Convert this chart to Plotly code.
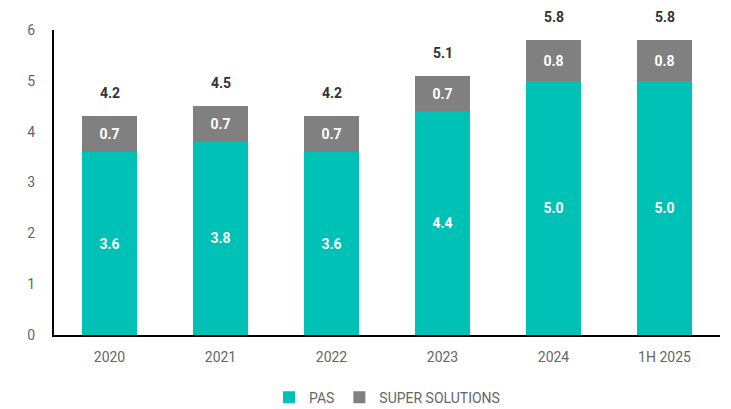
import plotly.graph_objects as go

categories = ["2020", "2021", "2022", "2023", "2024", "1H 2025"]
pas = [3.6, 3.8, 3.6, 4.4, 5.0, 5.0]
super_solutions = [0.7, 0.7, 0.7, 0.7, 0.8, 0.8]
total_labels = ["4.2", "4.5", "4.2", "5.1", "5.8", "5.8"]
y_ticks = [0, 1, 2, 3, 4, 5, 6]

TEAL = "#00C1B5"
GRAY = "#808080"
FONT = "Roboto, 'DejaVu Sans', sans-serif"

fig = go.Figure()
fig.add_trace(go.Bar(
    name="PAS", x=categories, y=pas, marker=dict(color=TEAL, line=dict(width=0)),
    text=[f"{v:.1f}" for v in pas], textposition="inside", insidetextanchor="middle",
    textfont=dict(color="white", size=14, family=FONT, weight="bold"),
    hoverinfo="skip", width=0.5,
))
fig.add_trace(go.Bar(
    name="SUPER SOLUTIONS", x=categories, y=super_solutions,
    marker=dict(color=GRAY, line=dict(width=0)),
    text=[f"{v:.1f}" for v in super_solutions], textposition="inside", insidetextanchor="middle",
    textfont=dict(color="white", size=14, family=FONT, weight="bold"),
    hoverinfo="skip", width=0.5,
))

for i, (p, s, lab) in enumerate(zip(pas, super_solutions, total_labels)):
    fig.add_annotation(x=i, y=p + s, xref="x", yref="y", text=lab, showarrow=False, yshift=23,
                       font=dict(color="#333333", size=14, family=FONT, weight="bold"))

fig.update_layout(
    barmode="stack",
    width=731, height=409,
    margin=dict(l=54, r=11, t=30, b=74),
    paper_bgcolor="white", plot_bgcolor="white",
    font=dict(family=FONT, color="#666666", size=14),
    uniformtext=dict(minsize=8, mode="show"),
    legend=dict(orientation="h", x=0.5, xanchor="center", yref="container", y=0.028,
                yanchor="middle", font=dict(size=14, color="#666666"), traceorder="normal"),
    xaxis=dict(type="category", range=[-0.5, 5.5], showline=True, linecolor="black",
               linewidth=2, ticks="", showgrid=False, automargin=False, ticklabelstandoff=8,
               tickfont=dict(size=14, color="#666666")),
    yaxis=dict(range=[0, 6], tickvals=y_ticks, showline=True, linecolor="black", linewidth=2,
               showgrid=False, zeroline=False, ticks="", ticklabelstandoff=14, automargin=False,
               tickfont=dict(size=14, color="#666666")),
)

fig.write_html("out.html", config={"displayModeBar": False},
               post_script="document.body.style.margin='0';document.body.style.overflow='hidden';")
